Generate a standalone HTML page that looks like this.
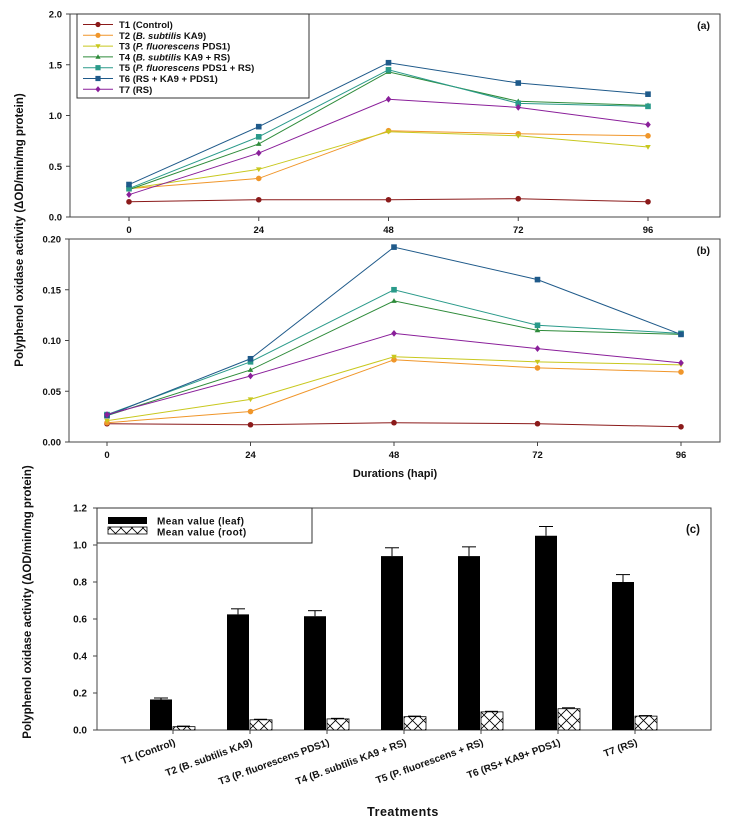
<!DOCTYPE html>
<html><head><meta charset="utf-8"><style>
body{margin:0;background:#fff;}
svg{display:block;font-family:"Liberation Sans",Arial,sans-serif;}
text{font-weight:bold;fill:#111;}
</style></head><body>
<svg id="s" width="730" height="833" viewBox="0 0 730 833">
<defs>
<pattern id="xh" width="11" height="11" patternUnits="userSpaceOnUse">
<rect width="11" height="11" fill="#fff"/>
<path d="M0 0L11 11M11 0L0 11" stroke="#000" stroke-width="0.8"/>
</pattern>
</defs>
</svg>
<script>
const hours=[0,24,48,72,96];
const seriesNames=["T1 (Control)","T2 (B. subtilis KA9)","T3 (P. fluorescens PDS1)","T4 (B. subtilis KA9 + RS)","T5 (P. fluorescens PDS1 + RS)","T6 (RS + KA9 + PDS1)","T7 (RS)"];
const colors=["#8b1a1a","#f0962a","#c8c81e","#2e8b3a","#2a9a8a","#1f5a8a","#8a1f9a"];
const markers=["circle","circle","tri-down","tri-up","square","square","diamond"];
const leafT1=[0.15,0.17,0.17,0.18,0.15];
const leafT2=[0.28,0.38,0.85,0.82,0.80];
const leafT3=[0.28,0.47,0.84,0.80,0.69];
const leafT4=[0.27,0.72,1.43,1.14,1.10];
const leafT5=[0.28,0.79,1.45,1.12,1.09];
const leafT6=[0.32,0.89,1.52,1.32,1.21];
const leafT7=[0.22,0.63,1.16,1.08,0.91];
const rootT1=[0.018,0.017,0.019,0.018,0.015];
const rootT2=[0.019,0.030,0.081,0.073,0.069];
const rootT3=[0.021,0.042,0.084,0.079,0.076];
const rootT4=[0.026,0.071,0.139,0.110,0.106];
const rootT5=[0.027,0.079,0.150,0.115,0.107];
const rootT6=[0.026,0.082,0.192,0.160,0.106];
const rootT7=[0.027,0.065,0.107,0.092,0.078];
const yTicksA=[0,0.5,1.0,1.5,2.0];
const yTicksB=[0,0.05,0.10,0.15,0.20];
const categories=["T1 (Control)","T2 (B. subtilis KA9)","T3 (P. fluorescens PDS1)","T4 (B. subtilis KA9 + RS)","T5 (P. fluorescens + RS)","T6 (RS+ KA9+ PDS1)","T7 (RS)"];
const meanLeaf=[0.165,0.625,0.615,0.94,0.94,1.05,0.80];
const errLeaf=[0.008,0.03,0.03,0.045,0.05,0.05,0.04];
const meanRoot=[0.018,0.055,0.06,0.072,0.098,0.115,0.075];
const errRoot=[0.003,0.003,0.003,0.003,0.003,0.005,0.003];
const yTicksC=[0,0.2,0.4,0.6,0.8,1.0,1.2];

const S=document.getElementById('s');const NS="http://www.w3.org/2000/svg";
function el(t,a,p){const e=document.createElementNS(NS,t);for(const k in a)e.setAttribute(k,a[k]);(p||S).appendChild(e);return e;}
function txt(x,y,s,a,p){const e=el('text',Object.assign({x:x,y:y},a||{}),p);e.textContent=s;return e;}
function marker(g,type,x,y,c,r){
 let e;
 if(type==="circle")e=el('circle',{cx:x,cy:y,r:r,fill:c},g);
 else if(type==="square")e=el('rect',{x:x-r,y:y-r,width:2*r,height:2*r,fill:c},g);
 else if(type==="tri-down")e=el('polygon',{points:`${x-r},${y-r*0.7} ${x+r},${y-r*0.7} ${x},${y+r}`,fill:c},g);
 else if(type==="tri-up")e=el('polygon',{points:`${x-r},${y+r*0.7} ${x+r},${y+r*0.7} ${x},${y-r}`,fill:c},g);
 else e=el('polygon',{points:`${x},${y-r*1.2} ${x+r},${y} ${x},${y+r*1.2} ${x-r},${y}`,fill:c},g);
 return e;
}
function linePanel(id,box,xr,yr,ticks,dec,data,label){
 const g=el('g',{});
 
 
 const fx=v=>xr[0]+(xr[1]-xr[0])*v/96, fy=v=>box.b-(box.b-box.t)*(v-yr[0])/(yr[1]-yr[0]);
 const fr=el('rect',{x:box.l,y:box.t,width:box.r-box.l,height:box.b-box.t,fill:'none',stroke:'#444','stroke-width':1},g);
 
 ticks.forEach(v=>{const y=fy(v);el('line',{x1:box.l-4,x2:box.l,y1:y,y2:y,stroke:'#444'},g);
  const t=txt(box.l-8,y+3.5,v.toFixed(dec),{'font-size':9.5,'text-anchor':'end'},g);
  });
 hours.forEach(h=>{const x=fx(h);el('line',{x1:x,x2:x,y1:box.b,y2:box.b+4,stroke:'#444'},g);
  const t=txt(x,box.b+16,String(h),{'font-size':9.5,'text-anchor':'middle'},g);
  });
 data.forEach((d,i)=>{
  const sg=el('g',{},g);
  
  
  el('polyline',{points:d.map((v,j)=>fx(hours[j])+','+fy(v)).join(' '),fill:'none',stroke:colors[i],'stroke-width':1},sg);
  d.forEach((v,j)=>{const m=marker(sg,markers[i],fx(hours[j]),fy(v),colors[i],2.8);
   });
 });
 txt(box.r-10,box.t+15,label,{'font-size':10.5,'text-anchor':'end'},g);
 return g;
}
linePanel('panel-a',{l:70,r:720,t:14,b:217},[129,648],[0,2],yTicksA,1,[leafT1,leafT2,leafT3,leafT4,leafT5,leafT6,leafT7],'(a)');
linePanel('panel-b',{l:69,r:720,t:239,b:442},[107,681],[0,0.2],yTicksB,2,[rootT1,rootT2,rootT3,rootT4,rootT5,rootT6,rootT7],'(b)');
// legend a
const lg=el('g',{});


el('rect',{x:77,y:14,width:232,height:84,fill:'#fff',stroke:'#333'},lg);
seriesNames.forEach((n,i)=>{const y=24.5+i*10.8;
 const e=el('g',{},lg);
 
 
 el('line',{x1:83,x2:113,y1:y,y2:y,stroke:colors[i]},e);marker(e,markers[i],98,y,colors[i],2.6);
 const t=txt(119,y+3.5,'',{'font-size':9.5},e);
 const m=n.match(/^(T\d \()(B\. subtilis|P\. fluorescens)?(.*)$/);
 const a=document.createElementNS(NS,'tspan');a.textContent=m[1];t.appendChild(a);
 if(m[2]){const b=document.createElementNS(NS,'tspan');b.setAttribute('font-style','italic');b.textContent=m[2];t.appendChild(b);}
 const c=document.createElementNS(NS,'tspan');c.textContent=m[3];t.appendChild(c);
});
const yl=txt(0,0,'Polyphenol oxidase activity (ΔOD/min/mg protein)',{'font-size':11.5,'text-anchor':'middle',transform:'translate(23,230) rotate(-90)'});

const xl=txt(395,477,'Durations (hapi)',{'font-size':11,'text-anchor':'middle'});


// panel c
const C={l:97,r:711,t:508,b:730};
const gc=el('g',{});


const cy=v=>C.b-(C.b-C.t)*v/1.2;
const cx=i=>150+i*77;
el('rect',{x:C.l,y:C.t,width:C.r-C.l,height:C.b-C.t,fill:'none',stroke:'#444'},gc);
yTicksC.forEach(v=>{const y=cy(v);el('line',{x1:C.l-4,x2:C.l,y1:y,y2:y,stroke:'#444'},gc);
 const t=txt(C.l-10,y+3.5,v.toFixed(1),{'font-size':10,'text-anchor':'end'},gc);
 });
categories.forEach((c,i)=>{
 const x=cx(i);
 el('line',{x1:x+11,x2:x+11,y1:cy(meanLeaf[i]),y2:cy(meanLeaf[i]+errLeaf[i]),stroke:'#000'},gc);
 el('line',{x1:x+4,x2:x+18,y1:cy(meanLeaf[i]+errLeaf[i]),y2:cy(meanLeaf[i]+errLeaf[i]),stroke:'#000'},gc);
 const b=el('rect',{x:x,y:cy(meanLeaf[i]),width:22,height:C.b-cy(meanLeaf[i]),fill:'#000'},gc);
 
 el('line',{x1:x+27,x2:x+40,y1:cy(meanRoot[i]+errRoot[i]),y2:cy(meanRoot[i]+errRoot[i]),stroke:'#000'},gc);
 const r=el('rect',{x:x+23,y:cy(meanRoot[i]),width:22,height:C.b-cy(meanRoot[i]),fill:'url(#xh)',stroke:'#000','stroke-width':0.8},gc);
 
 el('line',{x1:x+23,x2:x+23,y1:C.b,y2:C.b+4,stroke:'#444'},gc);
 const t=txt(0,0,c,{'font-size':10,'text-anchor':'end',transform:`translate(${x+26},${C.b+15}) rotate(-20)`},gc);
 
});
const lc=el('g',{},gc);


el('rect',{x:97,y:508,width:215,height:35,fill:'#fff',stroke:'#333'},lc);
el('rect',{x:108,y:517,width:39,height:7,fill:'#000'},lc);
el('rect',{x:108,y:527,width:39,height:7,fill:'url(#xh)',stroke:'#000','stroke-width':0.8},lc);
txt(157,524.5,'Mean value (leaf)',{'font-size':10,'letter-spacing':'0.4'},lc);
txt(157,535.5,'Mean value (root)',{'font-size':10,'letter-spacing':'0.4'},lc);
txt(700,533,'(c)',{'font-size':11.5,'text-anchor':'end'},gc);
const yc=txt(0,0,'Polyphenol oxidase activity (ΔOD/min/mg protein)',{'font-size':11.5,'text-anchor':'middle',transform:'translate(31,602) rotate(-90)'});

const xc=txt(403,816,'Treatments',{'font-size':12.5,'text-anchor':'middle','letter-spacing':'0.5'});

</script>
</body></html>
